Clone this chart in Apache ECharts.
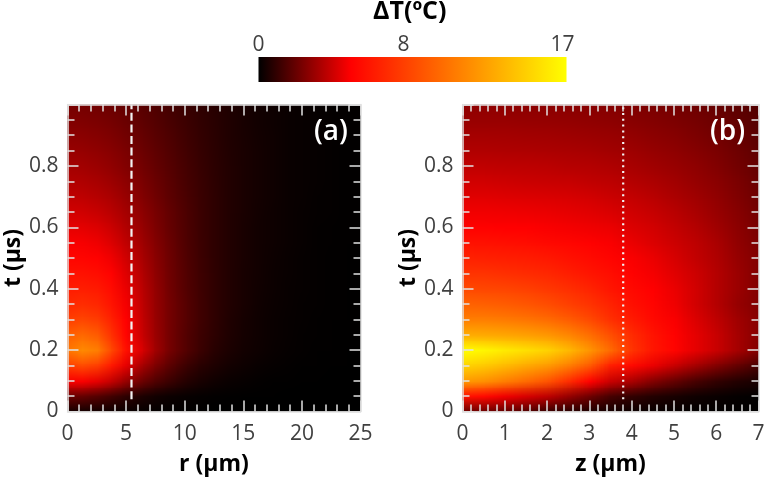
<!DOCTYPE html>
<html><head><meta charset="utf-8">
<style>html,body{margin:0;padding:0;background:#fff}#c{width:764px;height:477px}</style>
<script src="https://cdn.jsdelivr.net/npm/echarts@6/dist/echarts.min.js"></script>
</head><body><div id="c"></div>
<script>
const tValues=[0,.05,.1,.15,.2,.25,.3,.35,.4,.45,.5,.55,.6,.65,.7,.75,.8,.85,.9,.95,1];
const rValues=[0,1.25,2.5,3.75,5,6.25,7.5,8.75,10,11.25,12.5,13.75,15,16.25,17.5,18.75,20,21.25,22.5,23.75,25];
const zValues=[0,.5,1,1.5,2,2.5,3,3.5,4,4.5,5,5.5,6,6.5,7];
const tempA=[
[.35,.33,.28,.22,.16,.1,.06,.04,.02,.01,0,0,0,0,0,0,0,0,0,0,0],
[2.1,2,1.7,1.3,.9,.6,.38,.25,.15,.1,.06,.04,.02,.01,.01,0,0,0,0,0,0],
[5,5,4.6,3.9,3,2.2,1.6,1.15,.75,.5,.32,.2,.13,.08,.05,.03,.02,.01,0,0,0],
[8,8.6,8,6.2,4.6,3.4,2.5,1.8,1.25,.85,.6,.4,.27,.18,.12,.08,.05,.03,.02,.01,0],
[10.5,11.5,11,8.4,5.8,4.4,3.2,2.3,1.7,1.2,.8,.55,.38,.27,.18,.12,.08,.05,.03,.02,.01],
[9.6,10,9.4,7.4,5.3,4.1,3.1,2.3,1.7,1.25,.9,.62,.42,.29,.2,.13,.09,.06,.04,.02,.01],
[8,8.3,7.9,6.6,5.1,4,3.05,2.3,1.75,1.3,.95,.65,.45,.31,.21,.14,.1,.06,.04,.03,.01],
[7,7.2,6.9,6,4.9,3.9,3,2.3,1.75,1.3,.95,.67,.47,.33,.22,.15,.1,.07,.05,.03,.02],
[6.4,6.5,6.3,5.6,4.7,3.8,2.95,2.25,1.7,1.28,.95,.68,.48,.34,.24,.16,.11,.08,.05,.03,.02],
[5.9,5.9,5.7,5.2,4.45,3.65,2.85,2.2,1.68,1.26,.94,.68,.49,.35,.25,.17,.12,.08,.05,.03,.02],
[5.4,5.35,5.2,4.8,4.15,3.45,2.75,2.15,1.65,1.24,.92,.68,.5,.36,.26,.18,.12,.08,.05,.04,.02],
[5,4.95,4.8,4.4,3.85,3.25,2.65,2.1,1.6,1.22,.92,.68,.5,.37,.27,.19,.13,.09,.06,.04,.03],
[4.6,4.55,4.4,4.05,3.55,3.05,2.5,2,1.58,1.2,.92,.68,.5,.37,.27,.19,.14,.09,.06,.04,.03],
[4.2,4.15,4,3.7,3.3,2.85,2.4,1.95,1.55,1.2,.92,.68,.51,.38,.28,.2,.14,.1,.07,.05,.03],
[3.85,3.8,3.65,3.4,3.05,2.65,2.25,1.85,1.5,1.18,.92,.69,.52,.39,.29,.21,.15,.1,.07,.05,.03],
[3.55,3.5,3.35,3.12,2.82,2.48,2.12,1.78,1.45,1.16,.9,.69,.52,.39,.29,.21,.15,.11,.07,.05,.03],
[3.3,3.25,3.1,2.88,2.6,2.32,2,1.7,1.4,1.13,.88,.68,.52,.39,.29,.21,.15,.11,.08,.05,.03],
[3.05,3,2.88,2.7,2.45,2.18,1.9,1.62,1.34,1.08,.86,.66,.51,.39,.29,.21,.15,.11,.08,.05,.04],
[2.8,2.75,2.66,2.5,2.28,2.04,1.78,1.54,1.28,1.05,.84,.65,.5,.38,.29,.21,.16,.11,.08,.06,.04],
[2.58,2.54,2.46,2.32,2.12,1.9,1.68,1.45,1.22,1,.81,.64,.49,.37,.28,.21,.16,.11,.08,.06,.04],
[2.38,2.34,2.26,2.14,1.96,1.78,1.58,1.37,1.16,.96,.78,.62,.48,.37,.28,.21,.16,.12,.08,.06,.04]
];
const tempB=[
[2,1.95,1.8,1.45,1,.7,.5,.35,.2,.12,.08,.05,.03,.02,.01],
[6,5.5,4.8,4.3,3.8,3,2.2,1.4,1,.7,.5,.32,.2,.1,.05],
[12.3,11.8,11,10.1,9,7.2,5.2,4,3.4,2.6,2,1.45,1,.7,.5],
[15,14.5,13.8,13,12.3,11,9.3,6.5,5.5,4.7,4,3.3,2.6,2,1.4],
[17,16.6,16,15.5,14.9,13.7,12,10,7.5,6.1,5.3,4.6,4,3.3,2.6],
[13.2,13.1,12.9,12.6,12.2,11.4,10.3,8.8,7.1,6,5.2,4.6,4,3.3,2.7],
[11,11,10.8,10.5,10.1,9.4,8.5,7.3,6.3,5.5,5,4.4,3.8,3.2,2.7],
[9.7,9.6,9.4,9.1,8.7,8.1,7.5,6.7,5.8,5.3,4.8,4.2,3.6,3,2.6],
[8.5,8.4,8.3,8.1,7.7,7.3,6.8,6.1,5.5,5.1,4.7,4.2,3.6,3.1,2.6],
[7.5,7.5,7.3,7.1,6.9,6.5,6.1,5.7,5.2,4.9,4.5,4.1,3.6,3.1,2.6],
[6.7,6.6,6.5,6.4,6.2,5.9,5.6,5.3,5,4.7,4.3,3.9,3.5,3,2.6],
[5.9,5.9,5.8,5.7,5.5,5.4,5.2,5,4.7,4.4,4.1,3.8,3.4,2.9,2.5],
[5.2,5.2,5.1,5.1,5,4.9,4.8,4.7,4.4,4.2,3.9,3.6,3.2,2.8,2.4],
[4.85,4.85,4.8,4.75,4.7,4.6,4.5,4.35,4.15,3.95,3.7,3.4,3.05,2.7,2.3],
[4.5,4.5,4.45,4.4,4.35,4.3,4.2,4.05,3.9,3.7,3.45,3.2,2.9,2.55,2.2],
[4.15,4.15,4.1,4.05,4,3.95,3.85,3.75,3.6,3.45,3.25,3,2.75,2.45,2.1],
[3.85,3.85,3.8,3.78,3.73,3.65,3.6,3.5,3.35,3.2,3.05,2.85,2.6,2.3,2],
[3.55,3.55,3.5,3.48,3.45,3.4,3.33,3.25,3.15,3,2.85,2.68,2.45,2.2,1.9],
[3.3,3.3,3.27,3.25,3.22,3.17,3.1,3.03,2.93,2.8,2.67,2.5,2.3,2.05,1.8],
[3.05,3.05,3.03,3,2.98,2.93,2.88,2.82,2.73,2.62,2.5,2.35,2.17,1.95,1.7],
[2.85,2.85,2.83,2.8,2.78,2.74,2.7,2.63,2.55,2.45,2.33,2.2,2.03,1.83,1.6]
];
const colorTicks=[0,8,17];
const lineA=[[5.46,.04],[5.46,1]];
const lineB=[[3.8,.04],[3.8,1]];
const FONT='"Open Sans","Noto Sans",sans-serif';
const RED_AT=0.3, VMAX=17;
function colorOf(v){
  const f=Math.max(0,Math.min(1,v/VMAX));
  return f<RED_AT?[255*f/RED_AT,0,0]:[255,255*(f-RED_AT)/(1-RED_AT),0];
}
function makeImage(grid){
  const rows=grid.length,cols=grid[0].length;
  const cv=document.createElement('canvas');cv.width=cols;cv.height=rows;
  const ctx=cv.getContext('2d'),img=ctx.createImageData(cols,rows);
  for(let j=0;j<rows;j++)for(let i=0;i<cols;i++){
    const c=colorOf(grid[rows-1-j][i]),p=(j*cols+i)*4;
    img.data[p]=c[0];img.data[p+1]=c[1];img.data[p+2]=c[2];img.data[p+3]=255;
  }
  ctx.putImageData(img,0,0);return cv;
}
function fieldSeries(ax,grid,xs,ts){
  const cv=makeImage(grid);
  const dx=xs[1]-xs[0],dt=ts[1]-ts[0];
  return {type:'custom',coordinateSystem:'cartesian2d',xAxisIndex:ax,yAxisIndex:ax,clip:true,silent:true,z:1,
    data:[[xs[0],ts[0],xs[xs.length-1],ts[ts.length-1]]],encode:{x:[0,2],y:[1,3]},
    renderItem(params,api){
      const a=api.coord([api.value(0)-dx/2,api.value(3)+dt/2]);
      const b=api.coord([api.value(2)+dx/2,api.value(1)-dt/2]);
      return {type:'image',style:{image:cv,x:a[0],y:a[1],width:b[0]-a[0],height:b[1]-a[1]}};
    }};
}
const tickStyle={color:'#e2e2e2',width:1.5};
const titleStyle={fontFamily:FONT,fontWeight:'bold',fontSize:23,color:'#000'};
function xPair(grid,max,interval,name,gap){
  const base={type:'value',gridIndex:grid,min:0,max,interval,z:5,
    axisLine:{show:true,onZero:false,lineStyle:tickStyle},
    axisTick:{show:true,inside:true,length:11,lineStyle:tickStyle},
    minorTick:{show:true,splitNumber:5,length:7,lineStyle:tickStyle},
    splitLine:{show:false}};
  return [
    {...base,position:'bottom',name,nameLocation:'middle',nameGap:gap,nameTextStyle:titleStyle,
     axisLabel:{show:true,fontFamily:FONT,fontSize:21,color:'#404040',margin:12,hideOverlap:false,showMinLabel:true,showMaxLabel:true}},
    {...base,position:'top',axisLabel:{show:false}}
  ];
}
function yPair(grid,gap){
  const base={type:'value',gridIndex:grid,min:0,max:1,interval:.2,z:5,
    axisLine:{show:true,onZero:false,lineStyle:tickStyle},
    axisTick:{show:true,inside:true,length:11,lineStyle:tickStyle},
    minorTick:{show:true,splitNumber:4,length:7,lineStyle:tickStyle},
    splitLine:{show:false}};
  return [
    {...base,position:'left',name:'t (µs)',nameLocation:'middle',nameGap:gap,nameTextStyle:titleStyle,
     axisLabel:{show:true,fontFamily:FONT,fontSize:21,color:'#404040',margin:9,
       formatter:v=>v===0?'0':(v>=1?'':v.toFixed(1))}},
    {...base,position:'right',axisLabel:{show:false}}
  ];
}
const PANEL_TOP=104.5,PANEL_H=307;
const option={
  animation:false,backgroundColor:'#fff',
  grid:[
    {left:67.5,top:PANEL_TOP,width:293,height:PANEL_H,outerBoundsMode:'none'},
    {left:462.5,top:PANEL_TOP,width:296,height:PANEL_H,outerBoundsMode:'none'},
    {left:258.5,top:57,width:308,height:25,outerBoundsMode:'none'}
  ],
  xAxis:[...xPair(0,25,5,'r (µm)',41),...xPair(1,7,1,'z (µm)',41),
    {type:'value',gridIndex:2,position:'top',min:0,max:VMAX,
     axisLine:{show:false},axisTick:{show:false},splitLine:{show:false},
     axisLabel:{show:true,customValues:colorTicks,fontFamily:FONT,fontSize:21,color:'#404040',margin:1,
       formatter:v=>v===VMAX?'{m|'+v+'}':''+v,
       rich:{m:{fontFamily:FONT,fontSize:21,color:'#404040',padding:[0,8,0,0]}}}}],
  yAxis:[...yPair(0,43),...yPair(1,43),
    {type:'value',gridIndex:2,min:0,max:1,show:false}],
  series:[
    fieldSeries(0,tempA,rValues,tValues),
    {type:'line',xAxisIndex:0,yAxisIndex:0,data:lineA,showSymbol:false,silent:true,z:4,
     lineStyle:{color:'#f2f2f2',width:2.2,type:[8,3.6]}},
    fieldSeries(2,tempB,zValues,tValues),
    {type:'line',xAxisIndex:2,yAxisIndex:2,data:lineB,showSymbol:false,silent:true,z:4,
     lineStyle:{color:'#f2f2f2',width:2.2,type:[2,3.8]}},
    {type:'custom',xAxisIndex:4,yAxisIndex:4,silent:true,data:[[0,0,VMAX,1]],encode:{x:[0,2],y:[1,3]},
     renderItem(params,api){
       const a=api.coord([api.value(0),api.value(3)]),b=api.coord([api.value(2),api.value(1)]);
       return {type:'rect',shape:{x:a[0],y:a[1],width:b[0]-a[0],height:b[1]-a[1]},
         style:{fill:new echarts.graphic.LinearGradient(0,0,1,0,[
           {offset:0,color:'#000'},{offset:RED_AT,color:'#f00'},{offset:1,color:'#ff0'}])}};
     }}
  ],
  graphic:[
    {type:'text',left:373,top:-1,z:10,silent:true,style:{text:'ΔT(ºC)',fontFamily:FONT,fontWeight:'bold',fontSize:25,fill:'#000'}},
    {type:'text',left:314,top:118,z:10,silent:true,style:{text:'(a)',fontFamily:FONT,fontSize:28,fontWeight:600,fill:'#fff'}},
    {type:'text',left:710,top:118,z:10,silent:true,style:{text:'(b)',fontFamily:FONT,fontSize:28,fontWeight:600,fill:'#fff'}}
  ]
};
const chart=echarts.init(document.getElementById('c'),null,{renderer:'canvas'});
chart.setOption(option);
</script></body></html>
